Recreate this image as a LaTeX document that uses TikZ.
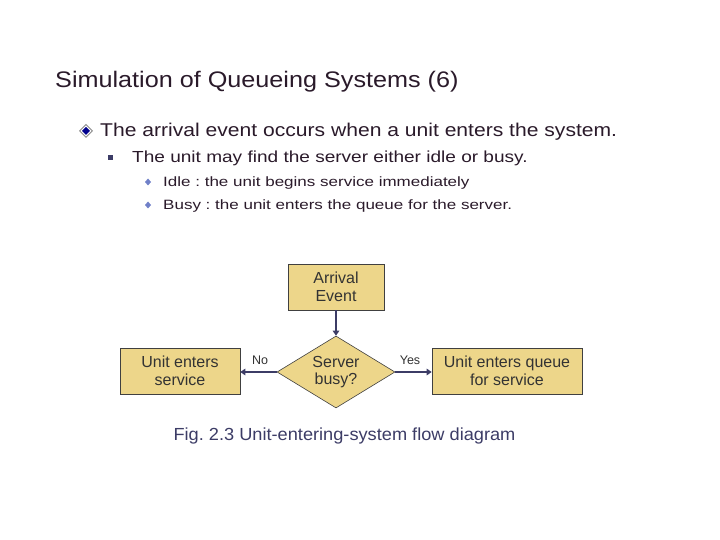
\documentclass[tikz,border=0pt]{standalone}
\usepackage{fontspec}
\setmainfont{Liberation Sans}
\newfontfamily\titlefont[FakeStretch=1.12]{Liberation Sans}
\newfontfamily\levelone[FakeStretch=1.14]{Liberation Sans}
\newfontfamily\leveltwo[FakeStretch=1.19]{Liberation Sans}
\newfontfamily\levelthree[FakeStretch=1.26]{Liberation Sans}
\newfontfamily\capfont[FakeStretch=1.04]{Liberation Sans}
\usetikzlibrary{shapes.geometric,arrows.meta}
\definecolor{khaki}{HTML}{EDD68A}
\definecolor{navy}{HTML}{3C3C66}
\definecolor{ink}{HTML}{2A1A2A}
\definecolor{bulletblue}{HTML}{7080C8}
\frenchspacing

\begin{document}
\begin{tikzpicture}[x=1pt,y=-1pt]

        \tikzset{block/.style = {shape=rectangle,draw=black!75,fill=khaki,line width=0.6pt,align=center,text=black!80,font=\fontsize{16}{17.5}\selectfont}}
        \tikzset{decision/.style = {shape=diamond,shape aspect=1.64,draw=black!75,fill=khaki,line width=0.6pt,align=center,text=black!80,font=\fontsize{16}{17.5}\selectfont,inner sep=0pt,minimum width=118pt,minimum height=72pt}}
        \tikzset{flow/.style = {draw=navy,line width=1.8pt,-{Triangle[length=5pt,width=6.5pt]}}}
        \tikzset{answer/.style = {text=black!80,font=\fontsize{12.5}{14}\selectfont}}
        \tikzset{textline/.style = {anchor=base west,inner sep=0pt,text=ink}}

        \useasboundingbox (0,0) rectangle (720,540);

        % title and bullets
        \node[textline,font=\titlefont\fontsize{22.5}{26}\selectfont] (title) at (55,88) {Simulation of Queueing Systems (6)};

        \fill[black!45] (86,124) -- (93,131) -- (86,138) -- (79,131) -- cycle;
        \fill[white] (86,125.5) -- (91.5,131) -- (86,136.5) -- (80.5,131) -- cycle;
        \fill[blue!55!black] (86,127) -- (90,131) -- (86,135) -- (82,131) -- cycle;
        \node[textline,font=\levelone\fontsize{18.5}{22}\selectfont] (l1) at (100,137) {The arrival event occurs when a unit enters the system.};

        \fill[navy] (107.5,155.5) rectangle (112.5,160.5);
        \node[textline,font=\leveltwo\fontsize{16}{19}\selectfont] (l2) at (132,163) {The unit may find the server either idle or busy.};

        \fill[bulletblue] (148,178.5) -- (151,182) -- (148,185.5) -- (145,182) -- cycle;
        \fill[bulletblue] (148,201.5) -- (151,205) -- (148,208.5) -- (145,205) -- cycle;
        \node[textline,font=\levelthree\fontsize{13.5}{16}\selectfont] (l3) at (163,187) {Idle : the unit begins service immediately};
        \node[textline,font=\levelthree\fontsize{13.5}{16}\selectfont] (l4) at (163,210) {Busy : the unit enters the queue for the server.};

        % flow diagram
        \node[block,minimum width=96pt,minimum height=46pt] (arrival) at (336,287) {Arrival\\Event};
        \node[decision] (busy) at (336,372) {Server\\busy?};
        \node[block,minimum width=120pt,minimum height=46pt] (service) at (180,371) {Unit enters\\service};
        \node[block,minimum width=150pt,minimum height=46pt] (queue) at (507,371) {Unit enters queue\\for service};

        \draw[flow] (arrival) to (busy);
        \draw[flow] (busy.west) to (service.east |- busy.west);
        \draw[flow] (busy.east) to (queue.west |- busy.east);

        \node[answer] (no) at (260,360) {No};
        \node[answer] (yes) at (410,360) {Yes};

        \node[text=navy,font=\capfont\fontsize{17.5}{20}\selectfont] (caption) at (344.5,436) {Fig. 2.3 Unit-entering-system flow diagram};
\end{tikzpicture}
\end{document}
